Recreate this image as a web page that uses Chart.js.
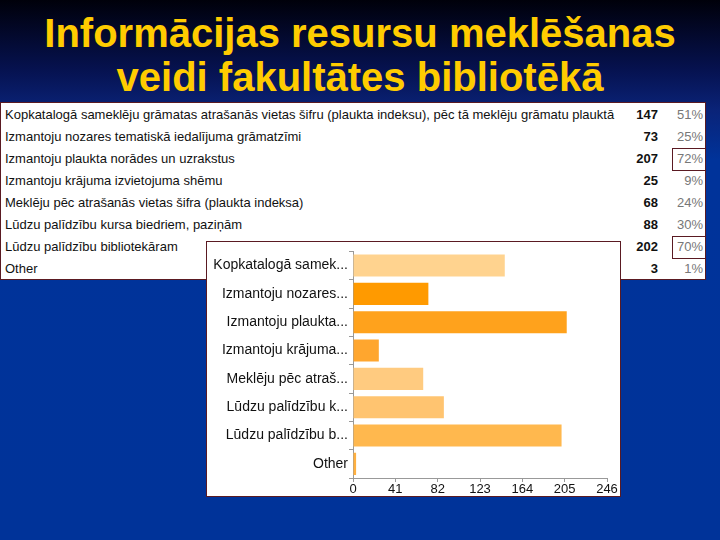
<!DOCTYPE html>
<html><head><meta charset="utf-8">
<script src="https://cdn.jsdelivr.net/npm/chart.js@4.4.1/dist/chart.umd.min.js"></script>
<style>
html,body{margin:0;padding:0;}
body{width:720px;height:540px;overflow:hidden;position:relative;
 background:linear-gradient(to bottom,#00000a 0px,#061250 70px,#0a2378 110px,#00339a 160px,#003399 540px);
 font-family:"Liberation Sans",Arial,sans-serif;}
#title{position:absolute;left:0;top:11px;width:720px;text-align:center;color:#FFCC00;
 font-family:"Liberation Sans",Arial,sans-serif;font-weight:bold;font-size:40px;line-height:44px;}
#table{position:absolute;left:0;top:102px;width:704px;height:176px;background:#fff;border:1px solid #5a1a22;}
.row{position:absolute;left:0;width:704px;height:22px;font-size:13px;line-height:22px;color:#111;}
.lab{position:absolute;left:4px;top:0;white-space:nowrap;}
.cnt{position:absolute;right:47px;top:0;font-weight:bold;}
.pct{position:absolute;right:2px;top:0;color:#777;}
.box{position:absolute;left:671px;top:0;width:32px;height:21px;border:1px solid #5a1a22;}
#chartbox{position:absolute;left:206px;top:241px;width:413px;height:254px;background:#fff;border:1px solid #5a1a22;}
</style></head>
<body>
<div id="title">Informācijas resursu meklēšanas<br>veidi fakultātes bibliotēkā</div>
<div id="table"></div>
<div id="chartbox"><canvas id="c" width="413" height="254"></canvas></div>
<script>
const fullLabels = [
 "Kopkatalogā sameklēju grāmatas atrašanās vietas šifru (plaukta indeksu), pēc tā meklēju grāmatu plauktā",
 "Izmantoju nozares tematiskā iedalījuma grāmatzīmi",
 "Izmantoju plaukta norādes un uzrakstus",
 "Izmantoju krājuma izvietojuma shēmu",
 "Meklēju pēc atrašanās vietas šifra (plaukta indeksa)",
 "Lūdzu palīdzību kursa biedriem, paziņām",
 "Lūdzu palīdzību bibliotekāram",
 "Other"
];
const shortLabels = [
 "Kopkatalogā samek...",
 "Izmantoju nozares...",
 "Izmantoju plaukta...",
 "Izmantoju krājuma...",
 "Meklēju pēc atraš...",
 "Lūdzu palīdzību k...",
 "Lūdzu palīdzību b...",
 "Other"
];
const counts = [147, 73, 207, 25, 68, 88, 202, 3];
const percents = ["51%", "25%", "72%", "9%", "24%", "30%", "70%", "1%"];
const boxedRows = [2, 6];
const xTicks = [0, 41, 82, 123, 164, 205, 246];
const barColors = ["#FFD38F", "#FF9A00", "#FFA21C", "#FFA62E", "#FFCB80", "#FFC470", "#FFB84E", "#FFB040"];

const tbl = document.getElementById('table');
fullLabels.forEach((l, i) => {
  const r = document.createElement('div');
  r.className = 'row'; r.style.top = (1 + i * 22) + 'px';
  r.innerHTML = '<span class="lab"></span><span class="cnt"></span><span class="pct"></span>';
  r.querySelector('.lab').textContent = l;
  r.querySelector('.cnt').textContent = counts[i];
  r.querySelector('.pct').textContent = percents[i];
  if (boxedRows.includes(i)) { const b = document.createElement('div'); b.className = 'box'; r.appendChild(b); }
  tbl.appendChild(r);
});

new Chart(document.getElementById('c'), {
  type: 'bar',
  data: { labels: shortLabels, datasets: [{ data: counts, backgroundColor: barColors, borderWidth: 0,
    barPercentage: 0.78, categoryPercentage: 1 }] },
  options: {
    indexAxis: 'y', responsive: false, animation: false,
    layout: { padding: { left: 0, right: 13, top: 6, bottom: 0 } },
    plugins: { legend: { display: false }, tooltip: { enabled: false } },
    scales: {
      x: { min: 0, max: 246, afterBuildTicks: s => { s.ticks = xTicks.map(v => ({ value: v })); },
        afterFit: s => { s.height = 18; },
        grid: { drawOnChartArea: false, tickLength: 4, color: '#999' },
        border: { color: '#999' },
        ticks: { font: { family: 'Liberation Sans', size: 13 }, color: '#111', padding: 0, maxRotation: 0 } },
      y: { afterFit: s => { s.width = 146; },
        grid: { drawOnChartArea: false, tickLength: 4, color: '#999' },
        border: { color: '#999' },
        ticks: { font: { family: 'Liberation Sans', size: 14 }, color: '#111', padding: 1 } }
    }
  }
});
</script>
</body></html>
